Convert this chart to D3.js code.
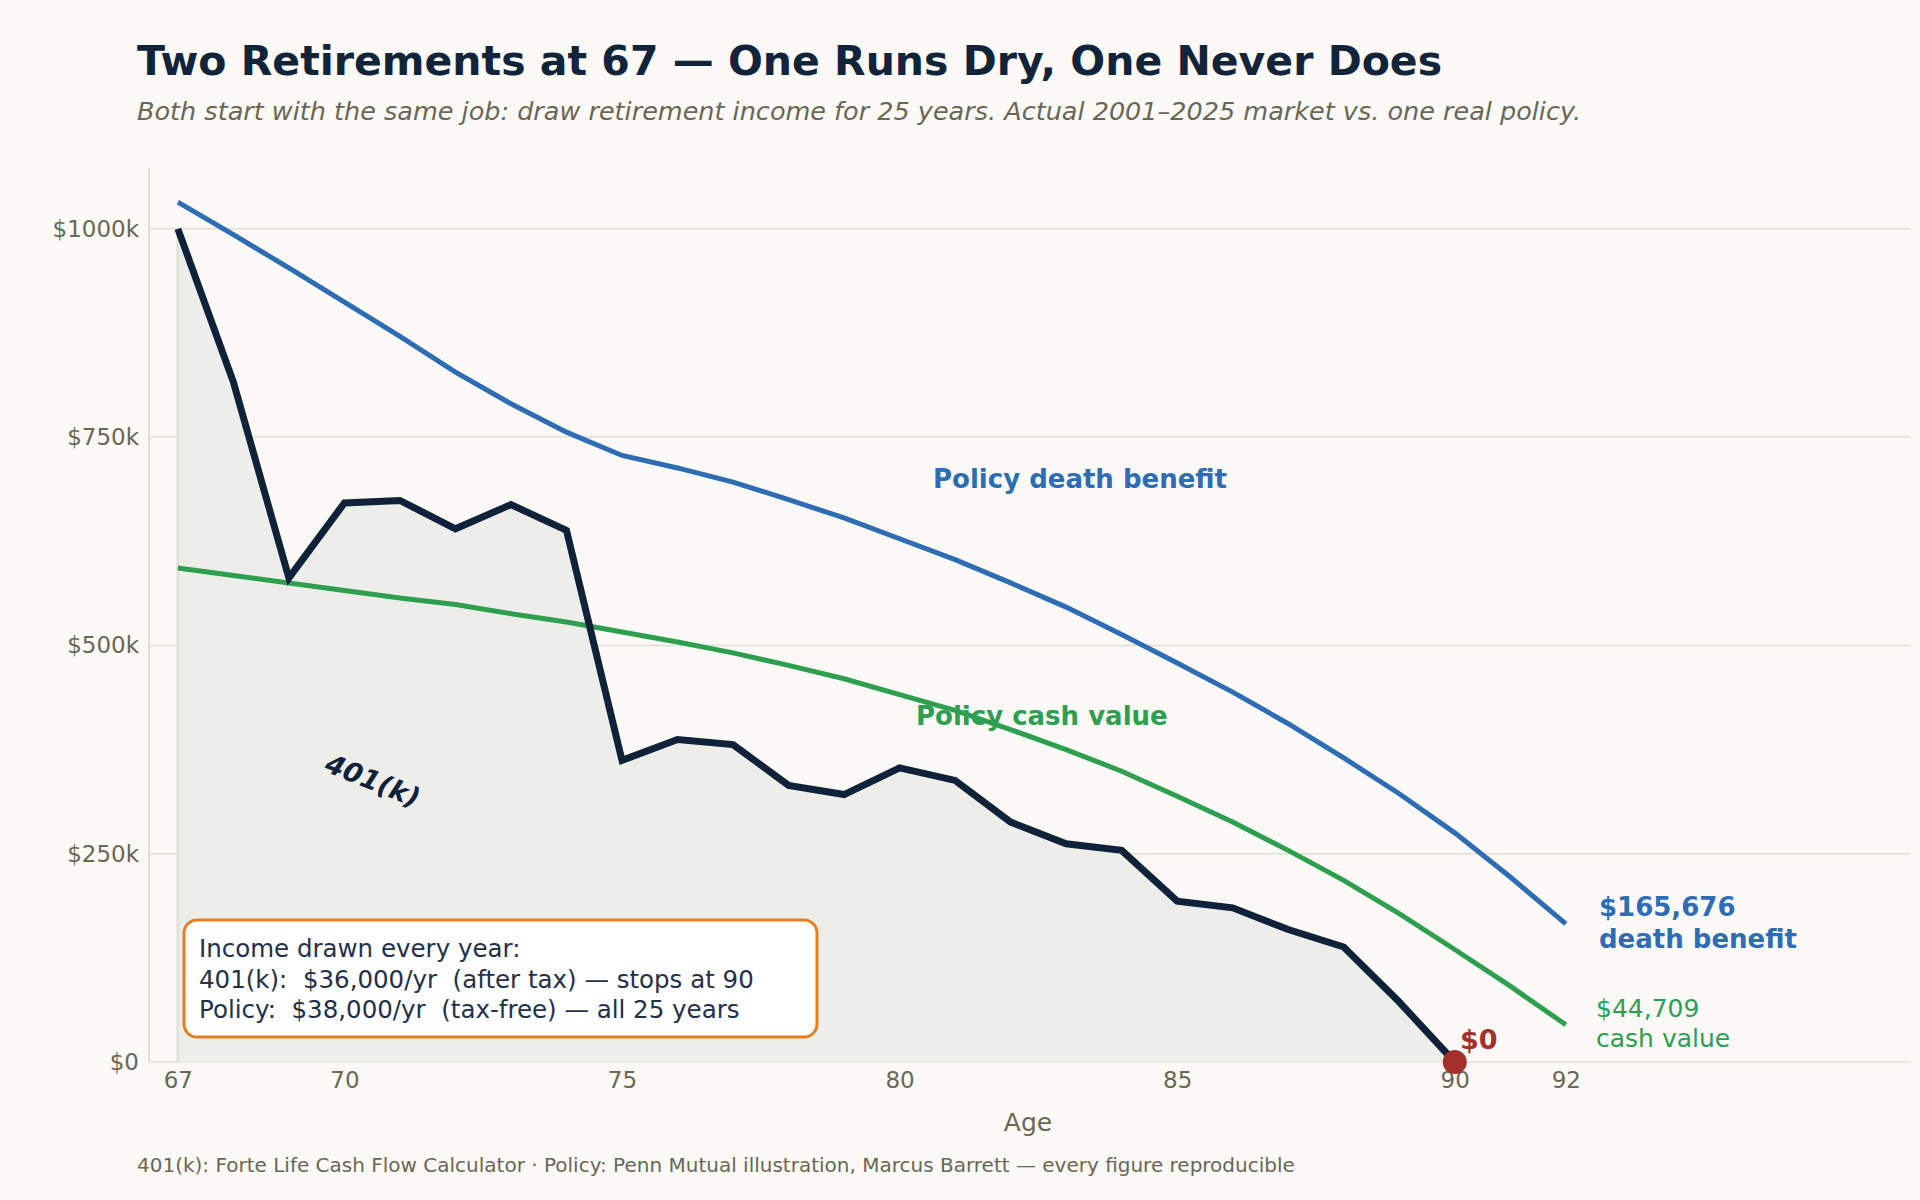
<!DOCTYPE html>
<html><head><meta charset="utf-8">
<script src="https://cdn.jsdelivr.net/npm/d3@7"></script>
<style>body{margin:0;background:#faf9f5}svg{display:block;font-family:"DejaVu Sans",sans-serif}</style>
</head><body><svg id="c" width="1920" height="1200"></svg>
<script>
const ages401k=[67,68,69,70,71,72,73,74,75,76,77,78,79,80,81,82,83,84,85,86,87,88,89,90];
const vals401k=[1000,816,581,671,674,640,669,638,362,387,381,332,321,353,338,288,262,254,193,185,159,138,72,0];
const agesPolicy=[67,68,69,70,71,72,73,74,75,76,77,78,79,80,81,82,83,84,85,86,87,88,89,90,91,92];
const deathBenefit=[1032,993,953,912,871,828,790,756,728,713,696,675,653,628,603,575,546,513,479,444,406,365,322,275,222,165.676];
const cashValue=[593,584,575,566,557,549,538,528,516,504,491,476,460,441,422,399,375,349,319,288,254,218,178,135,91,44.709];
const xTicks=[67,70,75,80,85,90,92];
const yTicks=[0,250,500,750,1000];

const svg=d3.select("#c");
const W=1920,H=1200;
svg.append("rect").attr("width",W).attr("height",H).attr("fill","#faf9f5");
const x=d3.scaleLinear().domain([66.48,98.2]).range([149,1910]);
const y=d3.scaleLinear().domain([0,1073]).range([1062,168]);
const gray="#6b6655";

// grid
svg.append("g").selectAll("line").data(yTicks).join("line")
 .attr("x1",149).attr("x2",1910).attr("y1",d=>y(d)).attr("y2",d=>y(d))
 .attr("stroke","#e3dfd0").attr("stroke-width",1.5);
// axes lines
svg.append("line").attr("x1",149).attr("x2",149).attr("y1",168).attr("y2",1062).attr("stroke","#e3dfd0").attr("stroke-width",2);

const yAx=svg.append("g").attr("transform","translate(149,0)")
 .call(d3.axisLeft(y).tickValues(yTicks).tickSize(0).tickPadding(10).tickFormat(d=>"$"+(d===0?"0":d+"k")));
yAx.select(".domain").remove();
yAx.selectAll("text").attr("fill",gray).attr("font-size",23).attr("font-family","DejaVu Sans");
const xAx=svg.append("g").attr("transform","translate(0,1062)")
 .call(d3.axisBottom(x).tickValues(xTicks).tickSize(0).tickPadding(10).tickFormat(d3.format("d")));
xAx.select(".domain").remove();
xAx.selectAll("text").attr("fill",gray).attr("font-size",23).attr("font-family","DejaVu Sans");

// area 401k
const pts=ages401k.map((a,i)=>[a,vals401k[i]]);
svg.append("path").datum(pts).attr("fill","#edeeea")
 .attr("d",d3.area().x(d=>x(d[0])).y0(y(0)).y1(d=>y(d[1])));
svg.append("line").attr("x1",x(67)).attr("x2",x(67)).attr("y1",y(1000)).attr("y2",y(0)).attr("stroke","#e2e2dc").attr("stroke-width",3);

const line=d3.line().x(d=>x(d[0])).y(d=>y(d[1]));
svg.append("path").datum(agesPolicy.map((a,i)=>[a,deathBenefit[i]])).attr("fill","none").attr("stroke","#2e6db4").attr("stroke-width",5).attr("d",line);
svg.append("path").datum(agesPolicy.map((a,i)=>[a,cashValue[i]])).attr("fill","none").attr("stroke","#2e9e50").attr("stroke-width",5).attr("d",line);
svg.append("path").datum(pts).attr("fill","none").attr("stroke","#10223a").attr("stroke-width",7).attr("stroke-linejoin","miter").attr("d",line);
svg.append("circle").attr("cx",x(90)).attr("cy",y(0)).attr("r",12).attr("fill","#a3302a");

function txt(t,xx,yy,o){const e=svg.append("text").attr("x",xx).attr("y",yy).text(t);for(const k in o)e.attr(k,o[k]);return e;}
txt("Two Retirements at 67 — One Runs Dry, One Never Does",137,75,{"font-size":41,"font-weight":"bold",fill:"#12243a"});
txt("Both start with the same job: draw retirement income for 25 years. Actual 2001–2025 market vs. one real policy.",137,120,{"font-size":25.5,"font-style":"italic",fill:gray});
txt("Age",1028,1131,{"font-size":25,fill:gray,"text-anchor":"middle"});
txt("401(k): Forte Life Cash Flow Calculator · Policy: Penn Mutual illustration, Marcus Barrett — every figure reproducible",137,1172,{"font-size":20,fill:gray});

txt("Policy death benefit",933,488,{"font-size":26,"font-weight":"bold",fill:"#2e6db4"});
txt("Policy cash value",916,725,{"font-size":26,"font-weight":"bold",fill:"#2e9e50"});
txt("401(k)",373,790,{"font-size":27,"font-weight":"bold","font-style":"italic",fill:"#10223a","text-anchor":"middle",transform:"rotate(22,373,780)"});
txt("$165,676",1599,916,{"font-size":26,"font-weight":"bold",fill:"#2e6db4"});
txt("death benefit",1599,948,{"font-size":26,"font-weight":"bold",fill:"#2e6db4"});
txt("$44,709",1596,1017,{"font-size":25,fill:"#2e9e50"});
txt("cash value",1596,1047,{"font-size":25,fill:"#2e9e50"});
txt("$0",1460,1049,{"font-size":27,"font-weight":"bold",fill:"#a3302a"});

svg.append("rect").attr("x",184).attr("y",920).attr("width",633).attr("height",117).attr("rx",13)
 .attr("fill","#ffffff").attr("stroke","#e08020").attr("stroke-width",3);
["Income drawn every year:","401(k):  $36,000/yr  (after tax) — stops at 90","Policy:  $38,000/yr  (tax-free) — all 25 years"].forEach((t,i)=>
 txt(t,199,957+i*30.5,{"font-size":24.5,fill:"#22304a","xml:space":"preserve"}).style("white-space","pre"));
</script></body></html>
